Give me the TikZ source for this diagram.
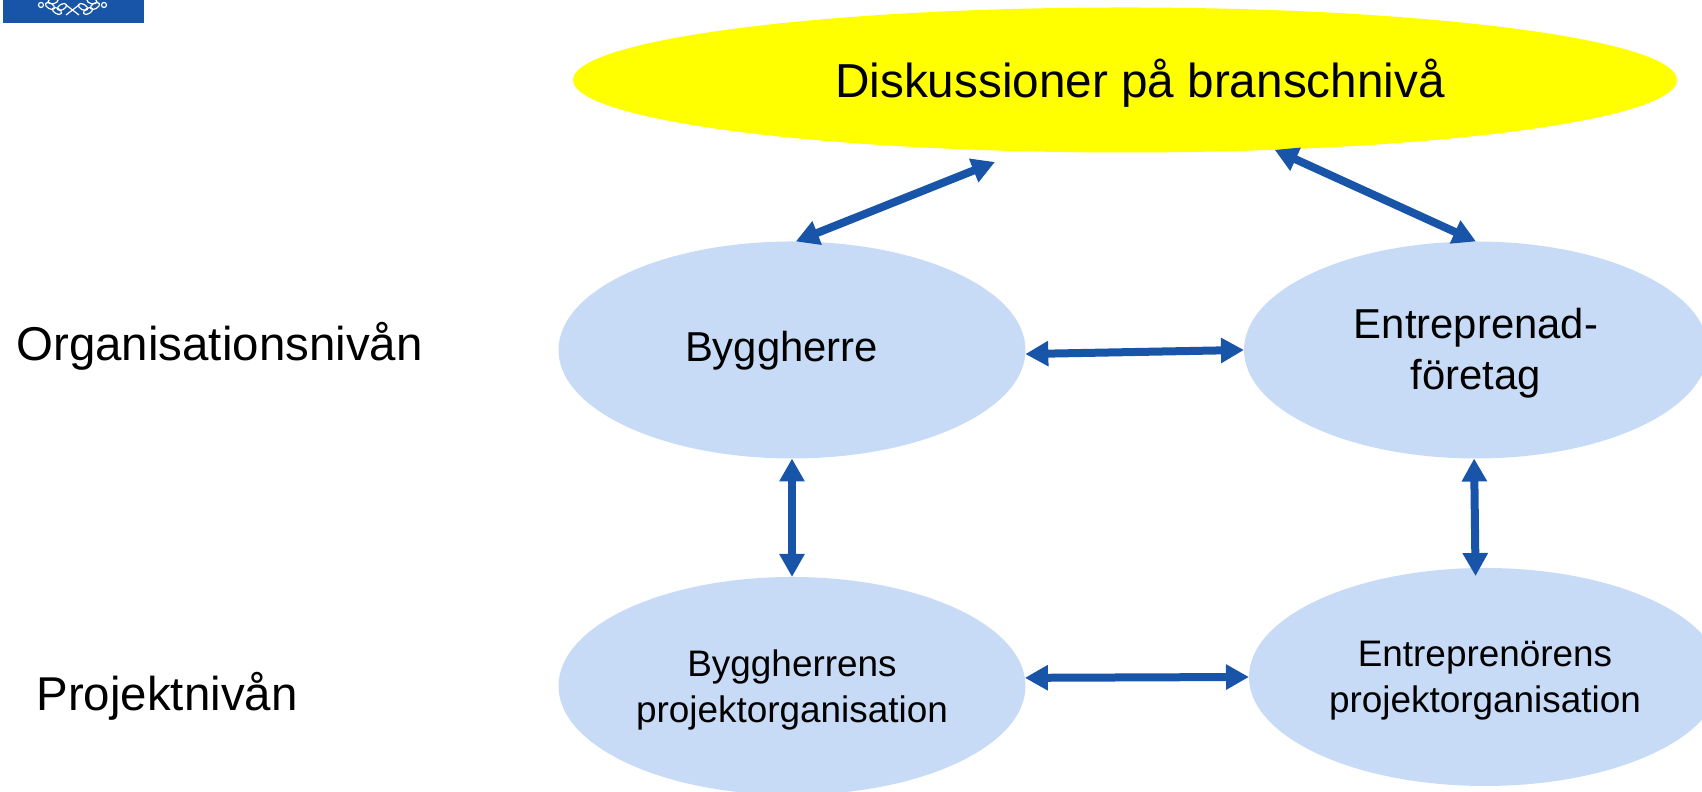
\documentclass[tikz,border=0pt]{standalone}
\usepackage{fontspec}
\setmainfont{Liberation Sans}
\usetikzlibrary{arrows.meta,shapes.geometric}
\definecolor{bubbleblue}{RGB}{199,219,247}
\definecolor{arrowblue}{RGB}{24,84,168}
\definecolor{diskyellow}{RGB}{255,255,0}
\tikzset{
	bubble/.style={ellipse, fill=bubbleblue, inner sep=0, outer sep=0, minimum width=4.67cm, minimum height=2.17cm, align=center},
	link/.style={line width=0.8mm, color=arrowblue, {Triangle[length=2.3mm,width=2.4mm]}-{Triangle[length=2.3mm,width=2.4mm]}},
	leaf/.style={draw=white, line width=0.12mm}
}
\begin{document}
\begin{tikzpicture}
			%%%%% START %%%%%
			\useasboundingbox (0, 0) rectangle (17.02, 7.92);
			\clip (0, 0) rectangle (17.02, 7.92);

			\draw[fill=arrowblue, draw=none] (0.03, 7.69) rectangle (1.44, 7.92);
			\draw[leaf] (0.66, 7.87) -- (0.79, 7.77);
			\draw[leaf] (0.66, 7.77) -- (0.79, 7.87);
			\foreach \x/\y/\r in {0.50/7.86/-30, 0.57/7.81/-30, 0.62/7.85/30, 0.53/7.91/10, 0.95/7.86/30, 0.88/7.81/30, 0.83/7.85/-30, 0.92/7.91/-10} {
				\draw[leaf, rotate around={\r:(\x, \y)}] (\x, \y) ellipse (0.05 and 0.028);
			}
			\draw[leaf] (0.41, 7.87) circle (0.025);
			\draw[leaf] (1.04, 7.87) circle (0.025);

			\node[ellipse, fill=diskyellow, inner sep=0, outer sep=0, minimum width=11.04cm, minimum height=1.45cm, text height=12.9pt, text depth=2.85pt, font=\fontsize{13.57}{16}\selectfont] (disk) at (11.25, 7.12) {\hspace*{0.30cm}Diskussioner på branschnivå};

			\node[bubble, text height=9.3pt, text depth=2.5pt, font=\fontsize{11.9}{14.3}\selectfont] (bygg) at (7.92, 4.42) {Byggherre\hspace*{0.21cm}};
			\node[bubble, minimum width=4.64cm, font=\fontsize{11.9}{14.3}\selectfont] (ent) at (14.76, 4.42) {\rule{0pt}{10.4pt}Entreprenad-\\företag};
			\node[bubble, minimum height=2.18cm, font=\fontsize{10.5}{13.1}\selectfont] (byggprojekt) at (7.92, 1.06) {\rule{0pt}{9.6pt}Byggherrens\\projektorganisation};
			\node[bubble, minimum width=4.72cm, minimum height=2.18cm, font=\fontsize{10.5}{13.1}\selectfont] (entprojekt) at (14.85, 1.15) {\rule{0pt}{9.1pt}Entreprenörens\\projektorganisation};

			\node[font=\fontsize{13.5}{16}\selectfont] (orgniva) at (2.195, 4.455) {Organisationsnivån};
			\node[font=\fontsize{13.5}{16}\selectfont] (projniva) at (1.67, 0.955) {Projektnivån};

			\coordinate (disktip) at (9.95, 6.30);

			\draw[link] (bygg.88) -- (disktip);
			\draw[link] (disk.-25) -- (ent.north);
			\draw[link] (bygg.-1) -- (ent.west);
			\draw[link] (bygg.south) -- (byggprojekt.north);
			\draw[link, shorten >=-0.08cm] (ent.-91) -- (entprojekt.95);
			\draw[link] (byggprojekt.2) -- (entprojekt.west);
			%%%%% END %%%%%
		\end{tikzpicture}
\end{document}
